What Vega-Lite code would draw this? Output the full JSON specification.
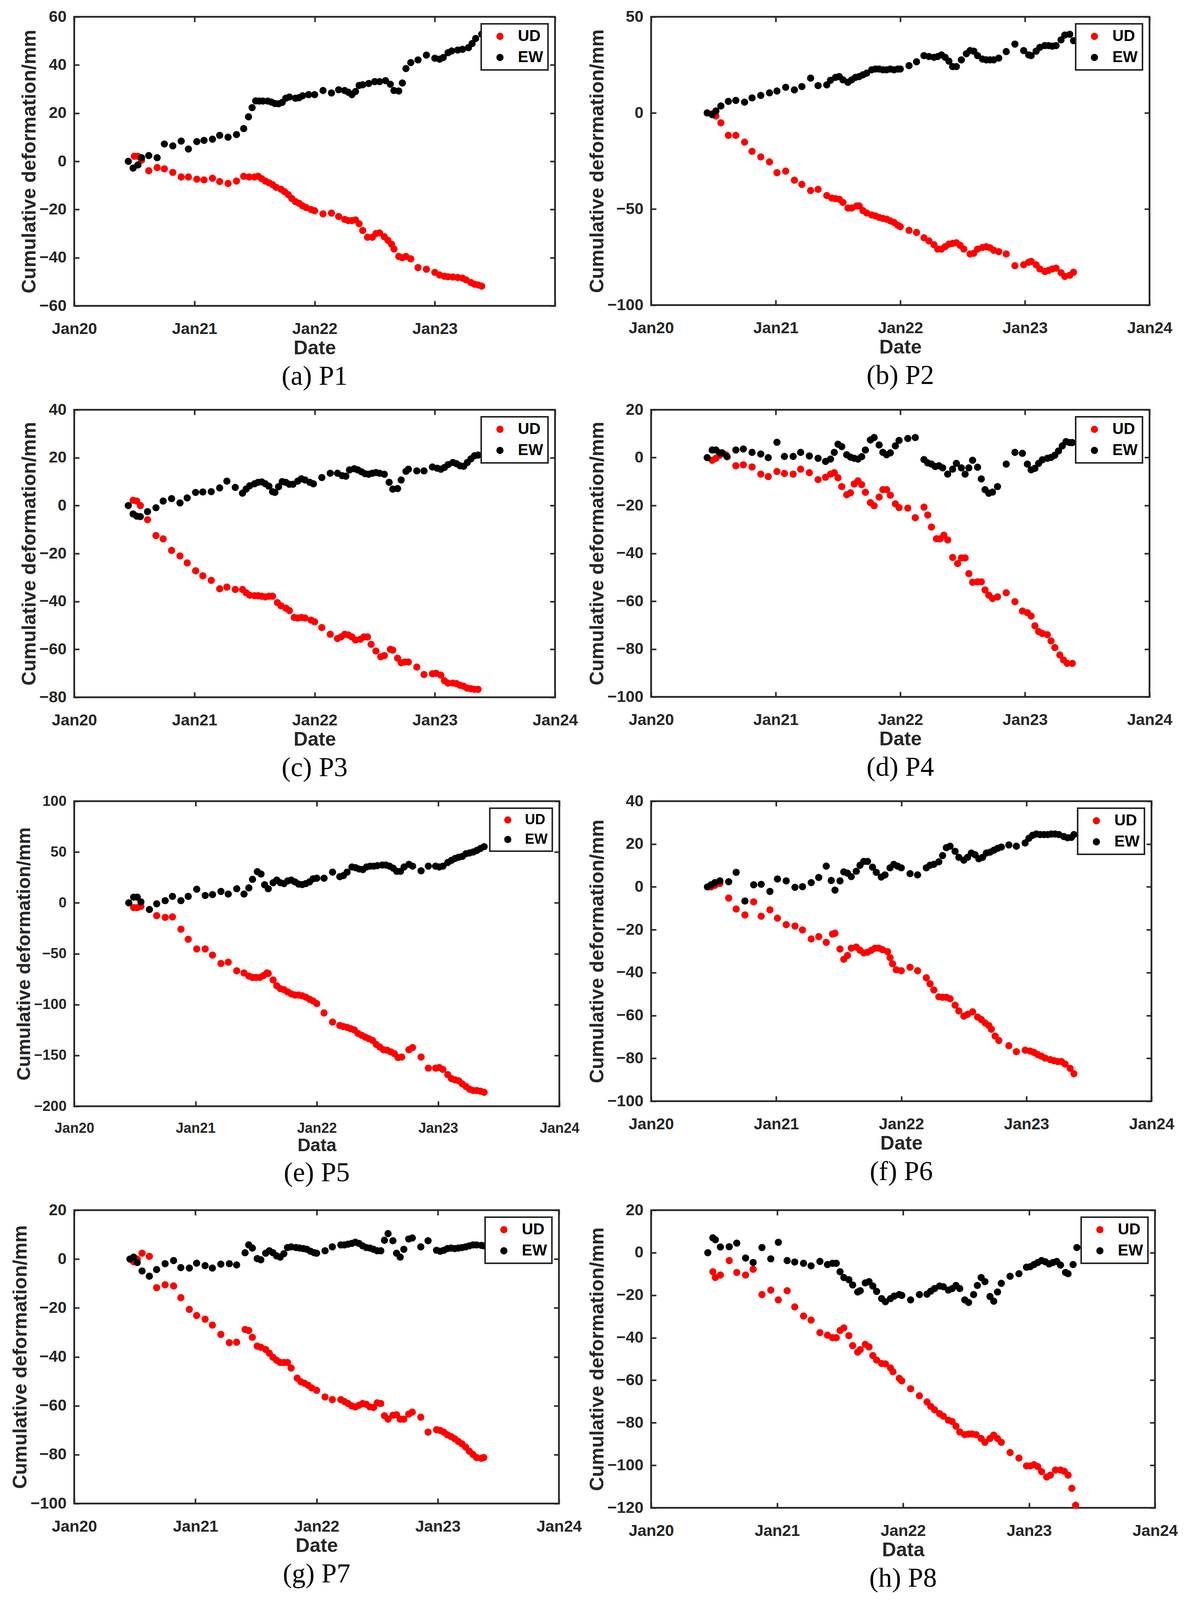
{
  "$schema": "https://vega.github.io/schema/vega-lite/v6.json",
  "background": "white",
  "padding": {"left": 25, "top": 19, "right": 10, "bottom": 10},
  "datasets": {
    "a": [
      {"series":"UD","t":2020.50,"v":2.1},{"series":"UD","t":2020.53,"v":2.1},{"series":"UD","t":2020.56,"v":0.5},{"series":"UD","t":2020.62,"v":-3.9},{"series":"UD","t":2020.69,"v":-2.6},{"series":"UD","t":2020.75,"v":-3.1},{"series":"UD","t":2020.82,"v":-4.6},{"series":"UD","t":2020.89,"v":-6.5},{"series":"UD","t":2020.95,"v":-6.5},{"series":"UD","t":2021.02,"v":-7.4},{"series":"UD","t":2021.08,"v":-7.7},{"series":"UD","t":2021.15,"v":-7.0},{"series":"UD","t":2021.21,"v":-8.4},{"series":"UD","t":2021.28,"v":-9.2},{"series":"UD","t":2021.35,"v":-8.2},{"series":"UD","t":2021.41,"v":-6.2},{"series":"UD","t":2021.455,"v":-6.5},{"series":"UD","t":2021.50,"v":-6.5},{"series":"UD","t":2021.53,"v":-6.2},{"series":"UD","t":2021.56,"v":-7.2},{"series":"UD","t":2021.59,"v":-8.2},{"series":"UD","t":2021.62,"v":-8.9},{"series":"UD","t":2021.65,"v":-9.7},{"series":"UD","t":2021.68,"v":-10.8},{"series":"UD","t":2021.72,"v":-11.6},{"series":"UD","t":2021.75,"v":-12.6},{"series":"UD","t":2021.78,"v":-13.8},{"series":"UD","t":2021.81,"v":-15.4},{"series":"UD","t":2021.84,"v":-16.7},{"series":"UD","t":2021.87,"v":-17.4},{"series":"UD","t":2021.90,"v":-18.5},{"series":"UD","t":2021.93,"v":-19.2},{"series":"UD","t":2021.97,"v":-20.0},{"series":"UD","t":2022.00,"v":-20.5},{"series":"UD","t":2022.07,"v":-21.8},{"series":"UD","t":2022.14,"v":-21.5},{"series":"UD","t":2022.20,"v":-22.9},{"series":"UD","t":2022.25,"v":-24.1},{"series":"UD","t":2022.28,"v":-24.6},{"series":"UD","t":2022.31,"v":-24.6},{"series":"UD","t":2022.34,"v":-24.3},{"series":"UD","t":2022.37,"v":-25.9},{"series":"UD","t":2022.40,"v":-28.7},{"series":"UD","t":2022.44,"v":-31.5},{"series":"UD","t":2022.48,"v":-31.5},{"series":"UD","t":2022.51,"v":-30.0},{"series":"UD","t":2022.54,"v":-29.7},{"series":"UD","t":2022.58,"v":-31.3},{"series":"UD","t":2022.61,"v":-32.8},{"series":"UD","t":2022.64,"v":-34.4},{"series":"UD","t":2022.66,"v":-36.4},{"series":"UD","t":2022.70,"v":-39.5},{"series":"UD","t":2022.73,"v":-40.0},{"series":"UD","t":2022.76,"v":-39.5},{"series":"UD","t":2022.80,"v":-40.5},{"series":"UD","t":2022.86,"v":-44.1},{"series":"UD","t":2022.93,"v":-44.8},{"series":"UD","t":2023.00,"v":-46.1},{"series":"UD","t":2023.04,"v":-47.2},{"series":"UD","t":2023.08,"v":-47.7},{"series":"UD","t":2023.11,"v":-47.9},{"series":"UD","t":2023.15,"v":-48.0},{"series":"UD","t":2023.19,"v":-48.2},{"series":"UD","t":2023.23,"v":-48.5},{"series":"UD","t":2023.26,"v":-49.2},{"series":"UD","t":2023.30,"v":-50.3},{"series":"UD","t":2023.33,"v":-51.0},{"series":"UD","t":2023.36,"v":-51.3},{"series":"UD","t":2023.39,"v":-51.8},
      {"series":"EW","t":2020.45,"v":0},{"series":"EW","t":2020.49,"v":-2.8},{"series":"EW","t":2020.53,"v":-1.5},{"series":"EW","t":2020.56,"v":1.5},{"series":"EW","t":2020.62,"v":2.4},{"series":"EW","t":2020.69,"v":1.5},{"series":"EW","t":2020.75,"v":7.2},{"series":"EW","t":2020.82,"v":6.4},{"series":"EW","t":2020.89,"v":8.4},{"series":"EW","t":2020.95,"v":5.1},{"series":"EW","t":2021.02,"v":8.2},{"series":"EW","t":2021.08,"v":8.7},{"series":"EW","t":2021.15,"v":9.2},{"series":"EW","t":2021.21,"v":10.8},{"series":"EW","t":2021.28,"v":10.0},{"series":"EW","t":2021.35,"v":11.1},{"series":"EW","t":2021.41,"v":13.6},{"series":"EW","t":2021.45,"v":18.5},{"series":"EW","t":2021.48,"v":22.3},{"series":"EW","t":2021.51,"v":25.1},{"series":"EW","t":2021.54,"v":25.0},{"series":"EW","t":2021.57,"v":25.0},{"series":"EW","t":2021.61,"v":25.0},{"series":"EW","t":2021.64,"v":24.6},{"series":"EW","t":2021.67,"v":24.0},{"series":"EW","t":2021.70,"v":23.9},{"series":"EW","t":2021.73,"v":24.5},{"series":"EW","t":2021.76,"v":26.2},{"series":"EW","t":2021.79,"v":26.7},{"series":"EW","t":2021.84,"v":26.2},{"series":"EW","t":2021.87,"v":26.4},{"series":"EW","t":2021.90,"v":27.2},{"series":"EW","t":2021.95,"v":27.7},{"series":"EW","t":2022.00,"v":27.7},{"series":"EW","t":2022.07,"v":29.4},{"series":"EW","t":2022.14,"v":28.4},{"series":"EW","t":2022.20,"v":29.7},{"series":"EW","t":2022.25,"v":29.4},{"series":"EW","t":2022.28,"v":28.7},{"series":"EW","t":2022.31,"v":27.7},{"series":"EW","t":2022.34,"v":29.0},{"series":"EW","t":2022.37,"v":31.5},{"series":"EW","t":2022.40,"v":31.8},{"series":"EW","t":2022.45,"v":32.3},{"series":"EW","t":2022.50,"v":33.1},{"series":"EW","t":2022.54,"v":33.1},{"series":"EW","t":2022.59,"v":33.5},{"series":"EW","t":2022.63,"v":32.0},{"series":"EW","t":2022.66,"v":29.4},{"series":"EW","t":2022.70,"v":29.2},{"series":"EW","t":2022.73,"v":32.5},{"series":"EW","t":2022.76,"v":38.5},{"series":"EW","t":2022.80,"v":41.0},{"series":"EW","t":2022.86,"v":42.1},{"series":"EW","t":2022.93,"v":44.1},{"series":"EW","t":2023.00,"v":42.8},{"series":"EW","t":2023.04,"v":42.4},{"series":"EW","t":2023.07,"v":43.1},{"series":"EW","t":2023.11,"v":45.1},{"series":"EW","t":2023.14,"v":45.8},{"series":"EW","t":2023.19,"v":46.2},{"series":"EW","t":2023.23,"v":46.5},{"series":"EW","t":2023.28,"v":47.2},{"series":"EW","t":2023.31,"v":48.9},{"series":"EW","t":2023.34,"v":51.0},{"series":"EW","t":2023.39,"v":52.8}
    ],
    "b": [
      {"series":"UD","t":2020.49,"v":-0.5},{"series":"UD","t":2020.52,"v":-1.6},{"series":"UD","t":2020.56,"v":-5.2},{"series":"UD","t":2020.62,"v":-11.7},{"series":"UD","t":2020.68,"v":-11.7},{"series":"UD","t":2020.75,"v":-15.2},{"series":"UD","t":2020.81,"v":-20.0},{"series":"UD","t":2020.88,"v":-22.9},{"series":"UD","t":2020.95,"v":-25.5},{"series":"UD","t":2021.01,"v":-31.1},{"series":"UD","t":2021.08,"v":-30.3},{"series":"UD","t":2021.15,"v":-35.0},{"series":"UD","t":2021.21,"v":-37.2},{"series":"UD","t":2021.28,"v":-40.4},{"series":"UD","t":2021.34,"v":-39.8},{"series":"UD","t":2021.41,"v":-43.0},{"series":"UD","t":2021.45,"v":-44.3},{"series":"UD","t":2021.48,"v":-44.6},{"series":"UD","t":2021.51,"v":-44.9},{"series":"UD","t":2021.54,"v":-46.6},{"series":"UD","t":2021.58,"v":-49.5},{"series":"UD","t":2021.61,"v":-49.5},{"series":"UD","t":2021.65,"v":-48.4},{"series":"UD","t":2021.67,"v":-48.4},{"series":"UD","t":2021.70,"v":-50.8},{"series":"UD","t":2021.73,"v":-52.1},{"series":"UD","t":2021.77,"v":-53.1},{"series":"UD","t":2021.80,"v":-53.6},{"series":"UD","t":2021.83,"v":-54.4},{"series":"UD","t":2021.86,"v":-54.9},{"series":"UD","t":2021.89,"v":-55.3},{"series":"UD","t":2021.92,"v":-56.2},{"series":"UD","t":2021.95,"v":-57.0},{"series":"UD","t":2021.98,"v":-58.5},{"series":"UD","t":2022.00,"v":-59.2},{"series":"UD","t":2022.07,"v":-61.1},{"series":"UD","t":2022.13,"v":-62.2},{"series":"UD","t":2022.19,"v":-65.0},{"series":"UD","t":2022.23,"v":-66.6},{"series":"UD","t":2022.27,"v":-68.6},{"series":"UD","t":2022.30,"v":-70.9},{"series":"UD","t":2022.33,"v":-70.9},{"series":"UD","t":2022.36,"v":-69.6},{"series":"UD","t":2022.39,"v":-68.3},{"series":"UD","t":2022.42,"v":-67.9},{"series":"UD","t":2022.45,"v":-67.6},{"series":"UD","t":2022.48,"v":-68.9},{"series":"UD","t":2022.51,"v":-70.9},{"series":"UD","t":2022.56,"v":-73.4},{"series":"UD","t":2022.59,"v":-73.0},{"series":"UD","t":2022.62,"v":-70.9},{"series":"UD","t":2022.66,"v":-70.0},{"series":"UD","t":2022.69,"v":-69.6},{"series":"UD","t":2022.72,"v":-70.2},{"series":"UD","t":2022.75,"v":-71.5},{"series":"UD","t":2022.79,"v":-72.2},{"series":"UD","t":2022.85,"v":-73.4},{"series":"UD","t":2022.92,"v":-79.5},{"series":"UD","t":2022.99,"v":-79.0},{"series":"UD","t":2023.03,"v":-77.7},{"series":"UD","t":2023.05,"v":-77.3},{"series":"UD","t":2023.09,"v":-79.0},{"series":"UD","t":2023.12,"v":-81.2},{"series":"UD","t":2023.16,"v":-82.5},{"series":"UD","t":2023.19,"v":-81.9},{"series":"UD","t":2023.22,"v":-81.2},{"series":"UD","t":2023.25,"v":-80.8},{"series":"UD","t":2023.29,"v":-83.2},{"series":"UD","t":2023.32,"v":-85.1},{"series":"UD","t":2023.36,"v":-84.5},{"series":"UD","t":2023.39,"v":-82.9},
      {"series":"EW","t":2020.45,"v":0},{"series":"EW","t":2020.49,"v":-0.9},{"series":"EW","t":2020.52,"v":1.0},{"series":"EW","t":2020.56,"v":3.6},{"series":"EW","t":2020.62,"v":6.0},{"series":"EW","t":2020.68,"v":6.5},{"series":"EW","t":2020.75,"v":5.6},{"series":"EW","t":2020.81,"v":7.8},{"series":"EW","t":2020.88,"v":9.1},{"series":"EW","t":2020.95,"v":10.4},{"series":"EW","t":2021.01,"v":11.4},{"series":"EW","t":2021.08,"v":13.3},{"series":"EW","t":2021.15,"v":12.0},{"series":"EW","t":2021.21,"v":13.7},{"series":"EW","t":2021.28,"v":18.1},{"series":"EW","t":2021.34,"v":14.2},{"series":"EW","t":2021.41,"v":14.6},{"series":"EW","t":2021.44,"v":17.0},{"series":"EW","t":2021.48,"v":18.5},{"series":"EW","t":2021.51,"v":18.9},{"series":"EW","t":2021.54,"v":17.2},{"series":"EW","t":2021.58,"v":15.9},{"series":"EW","t":2021.61,"v":17.2},{"series":"EW","t":2021.64,"v":18.5},{"series":"EW","t":2021.67,"v":18.9},{"series":"EW","t":2021.70,"v":19.8},{"series":"EW","t":2021.73,"v":20.7},{"series":"EW","t":2021.77,"v":22.4},{"series":"EW","t":2021.80,"v":22.8},{"series":"EW","t":2021.83,"v":22.8},{"series":"EW","t":2021.86,"v":22.4},{"series":"EW","t":2021.89,"v":22.4},{"series":"EW","t":2021.92,"v":22.8},{"series":"EW","t":2021.95,"v":22.4},{"series":"EW","t":2021.98,"v":22.8},{"series":"EW","t":2022.00,"v":22.8},{"series":"EW","t":2022.07,"v":24.6},{"series":"EW","t":2022.13,"v":26.6},{"series":"EW","t":2022.19,"v":29.8},{"series":"EW","t":2022.23,"v":29.3},{"series":"EW","t":2022.27,"v":28.9},{"series":"EW","t":2022.30,"v":29.3},{"series":"EW","t":2022.33,"v":30.2},{"series":"EW","t":2022.36,"v":28.9},{"series":"EW","t":2022.39,"v":26.9},{"series":"EW","t":2022.42,"v":24.1},{"series":"EW","t":2022.45,"v":24.1},{"series":"EW","t":2022.49,"v":27.6},{"series":"EW","t":2022.53,"v":30.8},{"series":"EW","t":2022.56,"v":32.4},{"series":"EW","t":2022.59,"v":32.1},{"series":"EW","t":2022.62,"v":29.8},{"series":"EW","t":2022.66,"v":28.0},{"series":"EW","t":2022.69,"v":27.6},{"series":"EW","t":2022.72,"v":27.6},{"series":"EW","t":2022.75,"v":27.6},{"series":"EW","t":2022.79,"v":28.5},{"series":"EW","t":2022.85,"v":31.9},{"series":"EW","t":2022.92,"v":35.8},{"series":"EW","t":2022.99,"v":32.4},{"series":"EW","t":2023.03,"v":30.2},{"series":"EW","t":2023.05,"v":29.8},{"series":"EW","t":2023.09,"v":32.1},{"series":"EW","t":2023.12,"v":34.1},{"series":"EW","t":2023.16,"v":35.0},{"series":"EW","t":2023.19,"v":35.0},{"series":"EW","t":2023.22,"v":34.7},{"series":"EW","t":2023.25,"v":35.0},{"series":"EW","t":2023.29,"v":38.0},{"series":"EW","t":2023.32,"v":40.5},{"series":"EW","t":2023.36,"v":40.9},{"series":"EW","t":2023.39,"v":37.6}
    ],
    "c": [
      {"series":"UD","t":2020.49,"v":2.2},{"series":"UD","t":2020.52,"v":1.9},{"series":"UD","t":2020.55,"v":0.0},{"series":"UD","t":2020.61,"v":-5.9},{"series":"UD","t":2020.68,"v":-12.5},{"series":"UD","t":2020.74,"v":-13.9},{"series":"UD","t":2020.81,"v":-18.7},{"series":"UD","t":2020.88,"v":-21.0},{"series":"UD","t":2020.94,"v":-23.9},{"series":"UD","t":2021.01,"v":-27.2},{"series":"UD","t":2021.07,"v":-29.3},{"series":"UD","t":2021.14,"v":-31.2},{"series":"UD","t":2021.21,"v":-34.7},{"series":"UD","t":2021.27,"v":-34.0},{"series":"UD","t":2021.34,"v":-35.0},{"series":"UD","t":2021.40,"v":-35.0},{"series":"UD","t":2021.43,"v":-36.4},{"series":"UD","t":2021.46,"v":-37.4},{"series":"UD","t":2021.50,"v":-37.6},{"series":"UD","t":2021.53,"v":-37.6},{"series":"UD","t":2021.56,"v":-37.8},{"series":"UD","t":2021.59,"v":-38.1},{"series":"UD","t":2021.62,"v":-37.8},{"series":"UD","t":2021.65,"v":-37.8},{"series":"UD","t":2021.69,"v":-40.5},{"series":"UD","t":2021.72,"v":-41.8},{"series":"UD","t":2021.76,"v":-42.8},{"series":"UD","t":2021.79,"v":-43.8},{"series":"UD","t":2021.83,"v":-46.7},{"series":"UD","t":2021.86,"v":-46.9},{"series":"UD","t":2021.89,"v":-46.7},{"series":"UD","t":2021.92,"v":-46.9},{"series":"UD","t":2021.97,"v":-47.8},{"series":"UD","t":2022.00,"v":-48.5},{"series":"UD","t":2022.06,"v":-50.9},{"series":"UD","t":2022.13,"v":-53.7},{"series":"UD","t":2022.19,"v":-55.5},{"series":"UD","t":2022.22,"v":-54.8},{"series":"UD","t":2022.25,"v":-53.7},{"series":"UD","t":2022.28,"v":-54.0},{"series":"UD","t":2022.31,"v":-54.8},{"series":"UD","t":2022.34,"v":-56.1},{"series":"UD","t":2022.38,"v":-55.8},{"series":"UD","t":2022.41,"v":-54.8},{"series":"UD","t":2022.44,"v":-54.8},{"series":"UD","t":2022.47,"v":-57.9},{"series":"UD","t":2022.51,"v":-60.7},{"series":"UD","t":2022.55,"v":-63.1},{"series":"UD","t":2022.58,"v":-62.6},{"series":"UD","t":2022.63,"v":-60.0},{"series":"UD","t":2022.65,"v":-60.3},{"series":"UD","t":2022.69,"v":-63.7},{"series":"UD","t":2022.72,"v":-65.6},{"series":"UD","t":2022.75,"v":-65.3},{"series":"UD","t":2022.78,"v":-65.3},{"series":"UD","t":2022.85,"v":-67.4},{"series":"UD","t":2022.91,"v":-70.5},{"series":"UD","t":2022.98,"v":-70.2},{"series":"UD","t":2023.01,"v":-70.0},{"series":"UD","t":2023.05,"v":-70.8},{"series":"UD","t":2023.08,"v":-73.1},{"series":"UD","t":2023.11,"v":-74.1},{"series":"UD","t":2023.15,"v":-74.1},{"series":"UD","t":2023.18,"v":-74.3},{"series":"UD","t":2023.21,"v":-75.0},{"series":"UD","t":2023.24,"v":-75.4},{"series":"UD","t":2023.27,"v":-76.2},{"series":"UD","t":2023.30,"v":-76.4},{"series":"UD","t":2023.33,"v":-76.7},{"series":"UD","t":2023.36,"v":-76.7},
      {"series":"EW","t":2020.45,"v":0},{"series":"EW","t":2020.49,"v":-3.5},{"series":"EW","t":2020.52,"v":-4.4},{"series":"EW","t":2020.55,"v":-4.6},{"series":"EW","t":2020.61,"v":-2.5},{"series":"EW","t":2020.68,"v":-0.9},{"series":"EW","t":2020.74,"v":1.9},{"series":"EW","t":2020.81,"v":2.9},{"series":"EW","t":2020.88,"v":1.1},{"series":"EW","t":2020.94,"v":3.2},{"series":"EW","t":2021.01,"v":5.5},{"series":"EW","t":2021.07,"v":5.7},{"series":"EW","t":2021.14,"v":5.8},{"series":"EW","t":2021.21,"v":7.4},{"series":"EW","t":2021.27,"v":10.2},{"series":"EW","t":2021.34,"v":7.6},{"series":"EW","t":2021.40,"v":5.2},{"series":"EW","t":2021.43,"v":6.9},{"series":"EW","t":2021.46,"v":8.3},{"series":"EW","t":2021.50,"v":9.1},{"series":"EW","t":2021.53,"v":9.7},{"series":"EW","t":2021.56,"v":9.9},{"series":"EW","t":2021.59,"v":9.1},{"series":"EW","t":2021.62,"v":8.1},{"series":"EW","t":2021.65,"v":5.8},{"series":"EW","t":2021.67,"v":5.5},{"series":"EW","t":2021.70,"v":7.9},{"series":"EW","t":2021.73,"v":10.0},{"series":"EW","t":2021.76,"v":9.7},{"series":"EW","t":2021.79,"v":8.9},{"series":"EW","t":2021.82,"v":8.9},{"series":"EW","t":2021.86,"v":10.2},{"series":"EW","t":2021.89,"v":11.2},{"series":"EW","t":2021.92,"v":10.7},{"series":"EW","t":2021.96,"v":9.7},{"series":"EW","t":2021.99,"v":9.1},{"series":"EW","t":2022.06,"v":11.7},{"series":"EW","t":2022.13,"v":13.5},{"series":"EW","t":2022.19,"v":13.5},{"series":"EW","t":2022.23,"v":12.5},{"series":"EW","t":2022.26,"v":12.3},{"series":"EW","t":2022.29,"v":14.9},{"series":"EW","t":2022.33,"v":15.4},{"series":"EW","t":2022.36,"v":14.9},{"series":"EW","t":2022.39,"v":14.1},{"series":"EW","t":2022.42,"v":13.3},{"series":"EW","t":2022.45,"v":13.1},{"series":"EW","t":2022.48,"v":13.5},{"series":"EW","t":2022.51,"v":13.8},{"series":"EW","t":2022.54,"v":13.5},{"series":"EW","t":2022.58,"v":13.1},{"series":"EW","t":2022.62,"v":9.7},{"series":"EW","t":2022.65,"v":6.9},{"series":"EW","t":2022.69,"v":7.1},{"series":"EW","t":2022.72,"v":10.7},{"series":"EW","t":2022.76,"v":14.3},{"series":"EW","t":2022.78,"v":15.2},{"series":"EW","t":2022.85,"v":14.5},{"series":"EW","t":2022.91,"v":14.5},{"series":"EW","t":2022.98,"v":16.1},{"series":"EW","t":2023.02,"v":15.6},{"series":"EW","t":2023.05,"v":15.2},{"series":"EW","t":2023.08,"v":15.9},{"series":"EW","t":2023.11,"v":17.1},{"series":"EW","t":2023.15,"v":18.0},{"series":"EW","t":2023.18,"v":17.5},{"series":"EW","t":2023.21,"v":16.6},{"series":"EW","t":2023.24,"v":16.4},{"series":"EW","t":2023.27,"v":18.0},{"series":"EW","t":2023.30,"v":19.5},{"series":"EW","t":2023.33,"v":20.8},{"series":"EW","t":2023.36,"v":21.1}
    ],
    "d": [
      {"series":"UD","t":2020.49,"v":-1.1},{"series":"UD","t":2020.52,"v":-0.3},{"series":"UD","t":2020.55,"v":1.0},{"series":"UD","t":2020.60,"v":1.2},{"series":"UD","t":2020.68,"v":-3.4},{"series":"UD","t":2020.74,"v":-3.0},{"series":"UD","t":2020.81,"v":-3.9},{"series":"UD","t":2020.88,"v":-6.9},{"series":"UD","t":2020.94,"v":-7.9},{"series":"UD","t":2021.01,"v":-5.8},{"series":"UD","t":2021.07,"v":-6.6},{"series":"UD","t":2021.14,"v":-6.9},{"series":"UD","t":2021.20,"v":-4.8},{"series":"UD","t":2021.27,"v":-6.3},{"series":"UD","t":2021.34,"v":-9.2},{"series":"UD","t":2021.40,"v":-8.2},{"series":"UD","t":2021.44,"v":-6.9},{"series":"UD","t":2021.47,"v":-6.3},{"series":"UD","t":2021.50,"v":-8.4},{"series":"UD","t":2021.53,"v":-12.1},{"series":"UD","t":2021.57,"v":-15.5},{"series":"UD","t":2021.60,"v":-14.7},{"series":"UD","t":2021.63,"v":-11.0},{"series":"UD","t":2021.66,"v":-9.7},{"series":"UD","t":2021.69,"v":-11.3},{"series":"UD","t":2021.72,"v":-14.5},{"series":"UD","t":2021.76,"v":-18.8},{"series":"UD","t":2021.79,"v":-20.1},{"series":"UD","t":2021.83,"v":-16.5},{"series":"UD","t":2021.86,"v":-13.4},{"series":"UD","t":2021.89,"v":-13.4},{"series":"UD","t":2021.92,"v":-15.7},{"series":"UD","t":2021.96,"v":-19.3},{"series":"UD","t":2021.99,"v":-20.9},{"series":"UD","t":2022.06,"v":-21.1},{"series":"UD","t":2022.12,"v":-25.1},{"series":"UD","t":2022.19,"v":-20.7},{"series":"UD","t":2022.22,"v":-24.0},{"series":"UD","t":2022.25,"v":-29.0},{"series":"UD","t":2022.29,"v":-33.9},{"series":"UD","t":2022.32,"v":-33.9},{"series":"UD","t":2022.35,"v":-32.4},{"series":"UD","t":2022.38,"v":-34.4},{"series":"UD","t":2022.42,"v":-41.7},{"series":"UD","t":2022.46,"v":-44.3},{"series":"UD","t":2022.49,"v":-41.9},{"series":"UD","t":2022.52,"v":-41.9},{"series":"UD","t":2022.55,"v":-48.5},{"series":"UD","t":2022.58,"v":-52.1},{"series":"UD","t":2022.62,"v":-51.9},{"series":"UD","t":2022.65,"v":-51.9},{"series":"UD","t":2022.68,"v":-55.3},{"series":"UD","t":2022.71,"v":-57.5},{"series":"UD","t":2022.74,"v":-58.9},{"series":"UD","t":2022.78,"v":-58.2},{"series":"UD","t":2022.85,"v":-56.5},{"series":"UD","t":2022.92,"v":-60.2},{"series":"UD","t":2022.98,"v":-64.1},{"series":"UD","t":2023.02,"v":-64.8},{"series":"UD","t":2023.05,"v":-66.2},{"series":"UD","t":2023.08,"v":-70.3},{"series":"UD","t":2023.11,"v":-72.7},{"series":"UD","t":2023.14,"v":-73.5},{"series":"UD","t":2023.18,"v":-74.0},{"series":"UD","t":2023.21,"v":-76.6},{"series":"UD","t":2023.24,"v":-79.4},{"series":"UD","t":2023.28,"v":-82.5},{"series":"UD","t":2023.31,"v":-84.6},{"series":"UD","t":2023.34,"v":-86.0},{"series":"UD","t":2023.38,"v":-86.0},
      {"series":"EW","t":2020.45,"v":0},{"series":"EW","t":2020.49,"v":3.2},{"series":"EW","t":2020.52,"v":3.2},{"series":"EW","t":2020.55,"v":2.0},{"series":"EW","t":2020.57,"v":2.0},{"series":"EW","t":2020.61,"v":0.4},{"series":"EW","t":2020.68,"v":3.2},{"series":"EW","t":2020.74,"v":3.6},{"series":"EW","t":2020.81,"v":2.2},{"series":"EW","t":2020.88,"v":1.5},{"series":"EW","t":2020.94,"v":0.0},{"series":"EW","t":2021.01,"v":6.4},{"series":"EW","t":2021.07,"v":0.5},{"series":"EW","t":2021.14,"v":0.5},{"series":"EW","t":2021.20,"v":2.2},{"series":"EW","t":2021.27,"v":0.7},{"series":"EW","t":2021.34,"v":-0.3},{"series":"EW","t":2021.40,"v":-1.6},{"series":"EW","t":2021.44,"v":-0.6},{"series":"EW","t":2021.47,"v":2.2},{"series":"EW","t":2021.50,"v":5.6},{"series":"EW","t":2021.53,"v":4.6},{"series":"EW","t":2021.57,"v":1.2},{"series":"EW","t":2021.60,"v":0.2},{"series":"EW","t":2021.63,"v":-0.3},{"series":"EW","t":2021.66,"v":-0.6},{"series":"EW","t":2021.69,"v":0.4},{"series":"EW","t":2021.72,"v":3.2},{"series":"EW","t":2021.76,"v":7.4},{"series":"EW","t":2021.79,"v":8.4},{"series":"EW","t":2021.83,"v":5.3},{"series":"EW","t":2021.86,"v":2.2},{"series":"EW","t":2021.89,"v":1.2},{"series":"EW","t":2021.92,"v":2.0},{"series":"EW","t":2021.96,"v":4.9},{"series":"EW","t":2021.99,"v":7.2},{"series":"EW","t":2022.06,"v":8.0},{"series":"EW","t":2022.12,"v":8.4},{"series":"EW","t":2022.19,"v":-0.8},{"series":"EW","t":2022.22,"v":-2.2},{"series":"EW","t":2022.25,"v":-2.7},{"series":"EW","t":2022.28,"v":-3.7},{"series":"EW","t":2022.31,"v":-3.4},{"series":"EW","t":2022.34,"v":-4.3},{"series":"EW","t":2022.38,"v":-6.9},{"series":"EW","t":2022.42,"v":-4.8},{"series":"EW","t":2022.45,"v":-2.4},{"series":"EW","t":2022.49,"v":-4.3},{"series":"EW","t":2022.52,"v":-6.9},{"series":"EW","t":2022.55,"v":-4.3},{"series":"EW","t":2022.58,"v":-1.1},{"series":"EW","t":2022.62,"v":-4.0},{"series":"EW","t":2022.65,"v":-8.9},{"series":"EW","t":2022.68,"v":-13.4},{"series":"EW","t":2022.71,"v":-14.9},{"series":"EW","t":2022.74,"v":-14.4},{"series":"EW","t":2022.78,"v":-12.1},{"series":"EW","t":2022.85,"v":-2.7},{"series":"EW","t":2022.92,"v":2.2},{"series":"EW","t":2022.98,"v":1.8},{"series":"EW","t":2023.02,"v":-2.7},{"series":"EW","t":2023.05,"v":-5.1},{"series":"EW","t":2023.08,"v":-4.5},{"series":"EW","t":2023.11,"v":-2.4},{"series":"EW","t":2023.14,"v":-0.9},{"series":"EW","t":2023.18,"v":-0.3},{"series":"EW","t":2023.21,"v":0.1},{"series":"EW","t":2023.24,"v":1.0},{"series":"EW","t":2023.27,"v":2.8},{"series":"EW","t":2023.30,"v":4.9},{"series":"EW","t":2023.33,"v":6.7},{"series":"EW","t":2023.36,"v":6.3},{"series":"EW","t":2023.38,"v":6.3}
    ],
    "e": [
      {"series":"UD","t":2020.49,"v":-4.7},{"series":"UD","t":2020.52,"v":-4.7},{"series":"UD","t":2020.55,"v":-3.4},{"series":"UD","t":2020.68,"v":-12.5},{"series":"UD","t":2020.75,"v":-14.3},{"series":"UD","t":2020.81,"v":-13.8},{"series":"UD","t":2020.88,"v":-25.9},{"series":"UD","t":2020.94,"v":-35.8},{"series":"UD","t":2021.01,"v":-45.3},{"series":"UD","t":2021.08,"v":-45.3},{"series":"UD","t":2021.14,"v":-51.3},{"series":"UD","t":2021.21,"v":-59.6},{"series":"UD","t":2021.27,"v":-58.3},{"series":"UD","t":2021.34,"v":-66.8},{"series":"UD","t":2021.40,"v":-68.9},{"series":"UD","t":2021.44,"v":-72.0},{"series":"UD","t":2021.47,"v":-73.3},{"series":"UD","t":2021.50,"v":-73.3},{"series":"UD","t":2021.53,"v":-73.3},{"series":"UD","t":2021.56,"v":-71.5},{"series":"UD","t":2021.59,"v":-68.9},{"series":"UD","t":2021.60,"v":-69.4},{"series":"UD","t":2021.64,"v":-75.8},{"series":"UD","t":2021.67,"v":-81.5},{"series":"UD","t":2021.70,"v":-84.4},{"series":"UD","t":2021.73,"v":-85.4},{"series":"UD","t":2021.76,"v":-87.5},{"series":"UD","t":2021.79,"v":-89.6},{"series":"UD","t":2021.82,"v":-90.6},{"series":"UD","t":2021.85,"v":-90.6},{"series":"UD","t":2021.88,"v":-91.4},{"series":"UD","t":2021.91,"v":-92.7},{"series":"UD","t":2021.94,"v":-94.7},{"series":"UD","t":2021.97,"v":-96.5},{"series":"UD","t":2022.00,"v":-99.1},{"series":"UD","t":2022.06,"v":-108.2},{"series":"UD","t":2022.13,"v":-117.2},{"series":"UD","t":2022.19,"v":-120.6},{"series":"UD","t":2022.22,"v":-121.6},{"series":"UD","t":2022.25,"v":-122.4},{"series":"UD","t":2022.28,"v":-123.7},{"series":"UD","t":2022.31,"v":-125.0},{"series":"UD","t":2022.34,"v":-128.4},{"series":"UD","t":2022.37,"v":-130.2},{"series":"UD","t":2022.40,"v":-132.0},{"series":"UD","t":2022.43,"v":-133.5},{"series":"UD","t":2022.46,"v":-135.3},{"series":"UD","t":2022.49,"v":-139.2},{"series":"UD","t":2022.52,"v":-141.8},{"series":"UD","t":2022.55,"v":-144.4},{"series":"UD","t":2022.58,"v":-144.9},{"series":"UD","t":2022.61,"v":-146.5},{"series":"UD","t":2022.64,"v":-148.3},{"series":"UD","t":2022.67,"v":-152.1},{"series":"UD","t":2022.70,"v":-151.6},{"series":"UD","t":2022.76,"v":-144.4},{"series":"UD","t":2022.79,"v":-142.3},{"series":"UD","t":2022.86,"v":-151.6},{"series":"UD","t":2022.92,"v":-162.5},{"series":"UD","t":2022.98,"v":-162.5},{"series":"UD","t":2023.01,"v":-162.0},{"series":"UD","t":2023.04,"v":-163.8},{"series":"UD","t":2023.08,"v":-168.9},{"series":"UD","t":2023.11,"v":-172.8},{"series":"UD","t":2023.14,"v":-174.1},{"series":"UD","t":2023.17,"v":-174.9},{"series":"UD","t":2023.20,"v":-178.0},{"series":"UD","t":2023.23,"v":-180.6},{"series":"UD","t":2023.26,"v":-183.2},{"series":"UD","t":2023.29,"v":-184.5},{"series":"UD","t":2023.32,"v":-184.5},{"series":"UD","t":2023.35,"v":-185.2},{"series":"UD","t":2023.38,"v":-186.3},
      {"series":"EW","t":2020.45,"v":0},{"series":"EW","t":2020.49,"v":5.6},{"series":"EW","t":2020.52,"v":5.6},{"series":"EW","t":2020.55,"v":1.0},{"series":"EW","t":2020.62,"v":-6.5},{"series":"EW","t":2020.68,"v":-0.9},{"series":"EW","t":2020.75,"v":2.2},{"series":"EW","t":2020.81,"v":6.4},{"series":"EW","t":2020.88,"v":2.2},{"series":"EW","t":2020.94,"v":6.4},{"series":"EW","t":2021.01,"v":13.4},{"series":"EW","t":2021.08,"v":7.2},{"series":"EW","t":2021.14,"v":8.2},{"series":"EW","t":2021.21,"v":11.3},{"series":"EW","t":2021.27,"v":8.7},{"series":"EW","t":2021.34,"v":13.9},{"series":"EW","t":2021.40,"v":8.7},{"series":"EW","t":2021.44,"v":14.7},{"series":"EW","t":2021.47,"v":23.2},{"series":"EW","t":2021.51,"v":30.7},{"series":"EW","t":2021.54,"v":28.4},{"series":"EW","t":2021.57,"v":17.8},{"series":"EW","t":2021.60,"v":13.9},{"series":"EW","t":2021.64,"v":19.8},{"series":"EW","t":2021.67,"v":22.4},{"series":"EW","t":2021.70,"v":19.8},{"series":"EW","t":2021.73,"v":19.0},{"series":"EW","t":2021.76,"v":21.6},{"series":"EW","t":2021.79,"v":22.4},{"series":"EW","t":2021.82,"v":20.6},{"series":"EW","t":2021.85,"v":18.5},{"series":"EW","t":2021.88,"v":18.0},{"series":"EW","t":2021.91,"v":19.0},{"series":"EW","t":2021.94,"v":20.6},{"series":"EW","t":2021.97,"v":23.7},{"series":"EW","t":2022.00,"v":24.2},{"series":"EW","t":2022.06,"v":24.2},{"series":"EW","t":2022.13,"v":30.2},{"series":"EW","t":2022.19,"v":25.8},{"series":"EW","t":2022.22,"v":26.8},{"series":"EW","t":2022.25,"v":30.2},{"series":"EW","t":2022.29,"v":35.3},{"series":"EW","t":2022.32,"v":34.6},{"series":"EW","t":2022.35,"v":33.3},{"series":"EW","t":2022.38,"v":32.8},{"series":"EW","t":2022.41,"v":35.3},{"series":"EW","t":2022.44,"v":36.1},{"series":"EW","t":2022.47,"v":36.1},{"series":"EW","t":2022.50,"v":36.6},{"series":"EW","t":2022.54,"v":37.2},{"series":"EW","t":2022.57,"v":37.2},{"series":"EW","t":2022.60,"v":36.1},{"series":"EW","t":2022.63,"v":34.1},{"series":"EW","t":2022.66,"v":31.0},{"series":"EW","t":2022.69,"v":31.0},{"series":"EW","t":2022.72,"v":35.3},{"series":"EW","t":2022.76,"v":37.9},{"series":"EW","t":2022.79,"v":36.1},{"series":"EW","t":2022.86,"v":31.5},{"series":"EW","t":2022.92,"v":36.1},{"series":"EW","t":2022.98,"v":36.1},{"series":"EW","t":2023.01,"v":35.3},{"series":"EW","t":2023.04,"v":36.1},{"series":"EW","t":2023.08,"v":39.7},{"series":"EW","t":2023.11,"v":41.8},{"series":"EW","t":2023.14,"v":43.6},{"series":"EW","t":2023.17,"v":44.9},{"series":"EW","t":2023.20,"v":45.7},{"series":"EW","t":2023.23,"v":48.3},{"series":"EW","t":2023.26,"v":49.1},{"series":"EW","t":2023.29,"v":50.1},{"series":"EW","t":2023.32,"v":51.6},{"series":"EW","t":2023.35,"v":53.5},{"series":"EW","t":2023.38,"v":55.3}
    ],
    "f": [
      {"series":"UD","t":2020.48,"v":0.0},{"series":"UD","t":2020.51,"v":0.7},{"series":"UD","t":2020.55,"v":1.6},{"series":"UD","t":2020.62,"v":-5.2},{"series":"UD","t":2020.68,"v":-10.3},{"series":"UD","t":2020.75,"v":-13.1},{"series":"UD","t":2020.82,"v":-7.0},{"series":"UD","t":2020.88,"v":-13.7},{"series":"UD","t":2020.95,"v":-10.7},{"series":"UD","t":2021.01,"v":-14.6},{"series":"UD","t":2021.08,"v":-17.6},{"series":"UD","t":2021.15,"v":-18.3},{"series":"UD","t":2021.21,"v":-20.1},{"series":"UD","t":2021.28,"v":-24.3},{"series":"UD","t":2021.34,"v":-23.2},{"series":"UD","t":2021.40,"v":-25.9},{"series":"UD","t":2021.45,"v":-22.0},{"series":"UD","t":2021.47,"v":-21.6},{"series":"UD","t":2021.51,"v":-29.0},{"series":"UD","t":2021.54,"v":-33.8},{"series":"UD","t":2021.57,"v":-32.0},{"series":"UD","t":2021.60,"v":-28.6},{"series":"UD","t":2021.64,"v":-28.1},{"series":"UD","t":2021.67,"v":-29.6},{"series":"UD","t":2021.70,"v":-30.8},{"series":"UD","t":2021.73,"v":-30.5},{"series":"UD","t":2021.76,"v":-29.6},{"series":"UD","t":2021.79,"v":-28.6},{"series":"UD","t":2021.82,"v":-28.6},{"series":"UD","t":2021.85,"v":-29.3},{"series":"UD","t":2021.89,"v":-30.2},{"series":"UD","t":2021.91,"v":-33.0},{"series":"UD","t":2021.93,"v":-35.9},{"series":"UD","t":2021.96,"v":-38.7},{"series":"UD","t":2022.00,"v":-39.1},{"series":"UD","t":2022.07,"v":-37.5},{"series":"UD","t":2022.13,"v":-39.1},{"series":"UD","t":2022.20,"v":-42.4},{"series":"UD","t":2022.23,"v":-45.2},{"series":"UD","t":2022.26,"v":-48.1},{"series":"UD","t":2022.30,"v":-51.3},{"series":"UD","t":2022.33,"v":-51.5},{"series":"UD","t":2022.36,"v":-51.5},{"series":"UD","t":2022.39,"v":-52.2},{"series":"UD","t":2022.43,"v":-55.2},{"series":"UD","t":2022.46,"v":-57.9},{"series":"UD","t":2022.50,"v":-60.3},{"series":"UD","t":2022.53,"v":-59.5},{"series":"UD","t":2022.57,"v":-58.3},{"series":"UD","t":2022.61,"v":-60.7},{"series":"UD","t":2022.64,"v":-61.9},{"series":"UD","t":2022.67,"v":-63.5},{"series":"UD","t":2022.70,"v":-64.7},{"series":"UD","t":2022.72,"v":-66.4},{"series":"UD","t":2022.75,"v":-69.6},{"series":"UD","t":2022.78,"v":-71.7},{"series":"UD","t":2022.86,"v":-74.1},{"series":"UD","t":2022.92,"v":-76.9},{"series":"UD","t":2022.99,"v":-76.2},{"series":"UD","t":2023.03,"v":-76.6},{"series":"UD","t":2023.06,"v":-77.2},{"series":"UD","t":2023.09,"v":-78.2},{"series":"UD","t":2023.12,"v":-79.0},{"series":"UD","t":2023.15,"v":-79.9},{"series":"UD","t":2023.19,"v":-80.6},{"series":"UD","t":2023.22,"v":-81.1},{"series":"UD","t":2023.25,"v":-81.5},{"series":"UD","t":2023.28,"v":-81.5},{"series":"UD","t":2023.31,"v":-82.7},{"series":"UD","t":2023.35,"v":-84.7},{"series":"UD","t":2023.38,"v":-87.2},
      {"series":"EW","t":2020.45,"v":0},{"series":"EW","t":2020.48,"v":1.0},{"series":"EW","t":2020.51,"v":2.0},{"series":"EW","t":2020.55,"v":2.8},{"series":"EW","t":2020.62,"v":2.4},{"series":"EW","t":2020.68,"v":6.8},{"series":"EW","t":2020.75,"v":-6.6},{"series":"EW","t":2020.82,"v":1.0},{"series":"EW","t":2020.88,"v":1.2},{"series":"EW","t":2020.95,"v":-2.1},{"series":"EW","t":2021.01,"v":3.7},{"series":"EW","t":2021.08,"v":2.8},{"series":"EW","t":2021.15,"v":-0.2},{"series":"EW","t":2021.21,"v":0.1},{"series":"EW","t":2021.28,"v":2.0},{"series":"EW","t":2021.34,"v":4.4},{"series":"EW","t":2021.40,"v":9.7},{"series":"EW","t":2021.44,"v":3.0},{"series":"EW","t":2021.47,"v":-1.5},{"series":"EW","t":2021.51,"v":2.8},{"series":"EW","t":2021.54,"v":7.0},{"series":"EW","t":2021.57,"v":6.4},{"series":"EW","t":2021.60,"v":4.8},{"series":"EW","t":2021.64,"v":7.3},{"series":"EW","t":2021.67,"v":10.1},{"series":"EW","t":2021.70,"v":11.9},{"series":"EW","t":2021.73,"v":11.9},{"series":"EW","t":2021.77,"v":9.2},{"series":"EW","t":2021.80,"v":6.8},{"series":"EW","t":2021.84,"v":4.6},{"series":"EW","t":2021.87,"v":5.6},{"series":"EW","t":2021.91,"v":8.9},{"series":"EW","t":2021.94,"v":10.5},{"series":"EW","t":2021.97,"v":9.7},{"series":"EW","t":2022.00,"v":8.9},{"series":"EW","t":2022.07,"v":6.2},{"series":"EW","t":2022.13,"v":5.6},{"series":"EW","t":2022.20,"v":8.9},{"series":"EW","t":2022.23,"v":10.1},{"series":"EW","t":2022.26,"v":10.5},{"series":"EW","t":2022.30,"v":11.7},{"series":"EW","t":2022.33,"v":14.6},{"series":"EW","t":2022.36,"v":18.3},{"series":"EW","t":2022.39,"v":19.0},{"series":"EW","t":2022.43,"v":16.6},{"series":"EW","t":2022.46,"v":13.8},{"series":"EW","t":2022.50,"v":12.5},{"series":"EW","t":2022.53,"v":13.8},{"series":"EW","t":2022.56,"v":15.8},{"series":"EW","t":2022.59,"v":15.0},{"series":"EW","t":2022.62,"v":13.1},{"series":"EW","t":2022.65,"v":13.8},{"series":"EW","t":2022.68,"v":15.8},{"series":"EW","t":2022.71,"v":16.2},{"series":"EW","t":2022.74,"v":17.1},{"series":"EW","t":2022.77,"v":18.0},{"series":"EW","t":2022.80,"v":18.6},{"series":"EW","t":2022.86,"v":19.6},{"series":"EW","t":2022.92,"v":19.0},{"series":"EW","t":2022.99,"v":20.5},{"series":"EW","t":2023.02,"v":22.7},{"series":"EW","t":2023.05,"v":24.1},{"series":"EW","t":2023.08,"v":24.7},{"series":"EW","t":2023.11,"v":24.4},{"series":"EW","t":2023.14,"v":24.4},{"series":"EW","t":2023.17,"v":24.4},{"series":"EW","t":2023.20,"v":24.7},{"series":"EW","t":2023.23,"v":24.7},{"series":"EW","t":2023.26,"v":24.4},{"series":"EW","t":2023.30,"v":23.5},{"series":"EW","t":2023.33,"v":22.9},{"series":"EW","t":2023.36,"v":23.1},{"series":"EW","t":2023.38,"v":24.4}
    ],
    "g": [
      {"series":"UD","t":2020.49,"v":-1.1},{"series":"UD","t":2020.52,"v":0.0},{"series":"UD","t":2020.56,"v":2.4},{"series":"UD","t":2020.62,"v":1.1},{"series":"UD","t":2020.68,"v":-11.7},{"series":"UD","t":2020.75,"v":-10.5},{"series":"UD","t":2020.82,"v":-11.0},{"series":"UD","t":2020.88,"v":-15.8},{"series":"UD","t":2020.95,"v":-20.6},{"series":"UD","t":2021.01,"v":-23.1},{"series":"UD","t":2021.08,"v":-24.6},{"series":"UD","t":2021.14,"v":-27.0},{"series":"UD","t":2021.21,"v":-30.8},{"series":"UD","t":2021.28,"v":-34.2},{"series":"UD","t":2021.34,"v":-34.0},{"series":"UD","t":2021.41,"v":-28.8},{"series":"UD","t":2021.44,"v":-29.2},{"series":"UD","t":2021.47,"v":-32.0},{"series":"UD","t":2021.51,"v":-35.6},{"series":"UD","t":2021.54,"v":-36.1},{"series":"UD","t":2021.58,"v":-37.0},{"series":"UD","t":2021.61,"v":-38.5},{"series":"UD","t":2021.64,"v":-40.2},{"series":"UD","t":2021.67,"v":-41.4},{"series":"UD","t":2021.70,"v":-42.3},{"series":"UD","t":2021.73,"v":-42.3},{"series":"UD","t":2021.76,"v":-42.3},{"series":"UD","t":2021.79,"v":-44.6},{"series":"UD","t":2021.84,"v":-48.7},{"series":"UD","t":2021.87,"v":-50.2},{"series":"UD","t":2021.90,"v":-50.8},{"series":"UD","t":2021.93,"v":-51.6},{"series":"UD","t":2021.96,"v":-52.7},{"series":"UD","t":2022.00,"v":-53.7},{"series":"UD","t":2022.07,"v":-56.4},{"series":"UD","t":2022.13,"v":-57.5},{"series":"UD","t":2022.20,"v":-57.5},{"series":"UD","t":2022.23,"v":-58.3},{"series":"UD","t":2022.26,"v":-59.1},{"series":"UD","t":2022.29,"v":-60.1},{"series":"UD","t":2022.32,"v":-60.5},{"series":"UD","t":2022.35,"v":-59.8},{"series":"UD","t":2022.38,"v":-59.1},{"series":"UD","t":2022.41,"v":-59.4},{"series":"UD","t":2022.44,"v":-60.5},{"series":"UD","t":2022.47,"v":-60.7},{"series":"UD","t":2022.50,"v":-58.8},{"series":"UD","t":2022.53,"v":-59.1},{"series":"UD","t":2022.56,"v":-64.1},{"series":"UD","t":2022.59,"v":-65.5},{"series":"UD","t":2022.63,"v":-63.9},{"series":"UD","t":2022.66,"v":-63.7},{"series":"UD","t":2022.69,"v":-65.5},{"series":"UD","t":2022.72,"v":-65.5},{"series":"UD","t":2022.76,"v":-63.4},{"series":"UD","t":2022.79,"v":-62.6},{"series":"UD","t":2022.86,"v":-64.7},{"series":"UD","t":2022.92,"v":-70.8},{"series":"UD","t":2022.99,"v":-69.8},{"series":"UD","t":2023.02,"v":-70.1},{"series":"UD","t":2023.05,"v":-70.8},{"series":"UD","t":2023.08,"v":-71.9},{"series":"UD","t":2023.11,"v":-72.6},{"series":"UD","t":2023.14,"v":-73.5},{"series":"UD","t":2023.17,"v":-74.6},{"series":"UD","t":2023.20,"v":-75.6},{"series":"UD","t":2023.23,"v":-76.9},{"series":"UD","t":2023.26,"v":-78.6},{"series":"UD","t":2023.29,"v":-79.9},{"series":"UD","t":2023.32,"v":-81.2},{"series":"UD","t":2023.36,"v":-81.5},{"series":"UD","t":2023.38,"v":-81.2},
      {"series":"EW","t":2020.46,"v":0},{"series":"EW","t":2020.49,"v":0.8},{"series":"EW","t":2020.52,"v":-1.4},{"series":"EW","t":2020.56,"v":-4.9},{"series":"EW","t":2020.62,"v":-7.0},{"series":"EW","t":2020.68,"v":-4.3},{"series":"EW","t":2020.75,"v":-1.9},{"series":"EW","t":2020.82,"v":-0.6},{"series":"EW","t":2020.88,"v":-3.5},{"series":"EW","t":2020.95,"v":-3.7},{"series":"EW","t":2021.01,"v":-1.7},{"series":"EW","t":2021.08,"v":-2.7},{"series":"EW","t":2021.14,"v":-3.7},{"series":"EW","t":2021.21,"v":-2.1},{"series":"EW","t":2021.28,"v":-1.9},{"series":"EW","t":2021.34,"v":-2.4},{"series":"EW","t":2021.41,"v":2.6},{"series":"EW","t":2021.44,"v":5.8},{"series":"EW","t":2021.47,"v":4.5},{"series":"EW","t":2021.51,"v":0.2},{"series":"EW","t":2021.54,"v":-0.3},{"series":"EW","t":2021.58,"v":2.4},{"series":"EW","t":2021.61,"v":3.4},{"series":"EW","t":2021.64,"v":2.6},{"series":"EW","t":2021.67,"v":1.3},{"series":"EW","t":2021.70,"v":0.8},{"series":"EW","t":2021.73,"v":2.2},{"series":"EW","t":2021.76,"v":4.7},{"series":"EW","t":2021.79,"v":5.0},{"series":"EW","t":2021.83,"v":4.7},{"series":"EW","t":2021.86,"v":4.5},{"series":"EW","t":2021.89,"v":4.3},{"series":"EW","t":2021.92,"v":4.0},{"series":"EW","t":2021.95,"v":3.2},{"series":"EW","t":2021.98,"v":2.6},{"series":"EW","t":2022.00,"v":2.4},{"series":"EW","t":2022.07,"v":3.4},{"series":"EW","t":2022.13,"v":5.0},{"series":"EW","t":2022.20,"v":5.8},{"series":"EW","t":2022.23,"v":5.8},{"series":"EW","t":2022.26,"v":6.1},{"series":"EW","t":2022.29,"v":6.4},{"series":"EW","t":2022.32,"v":6.9},{"series":"EW","t":2022.35,"v":6.4},{"series":"EW","t":2022.38,"v":5.4},{"series":"EW","t":2022.41,"v":4.7},{"series":"EW","t":2022.44,"v":4.5},{"series":"EW","t":2022.47,"v":4.0},{"series":"EW","t":2022.50,"v":3.4},{"series":"EW","t":2022.53,"v":3.4},{"series":"EW","t":2022.56,"v":7.7},{"series":"EW","t":2022.59,"v":10.4},{"series":"EW","t":2022.63,"v":7.5},{"series":"EW","t":2022.66,"v":2.4},{"series":"EW","t":2022.69,"v":0.8},{"series":"EW","t":2022.72,"v":4.0},{"series":"EW","t":2022.76,"v":8.2},{"series":"EW","t":2022.79,"v":8.6},{"series":"EW","t":2022.86,"v":5.0},{"series":"EW","t":2022.92,"v":7.5},{"series":"EW","t":2022.99,"v":3.6},{"series":"EW","t":2023.02,"v":3.2},{"series":"EW","t":2023.05,"v":3.6},{"series":"EW","t":2023.08,"v":4.3},{"series":"EW","t":2023.11,"v":4.5},{"series":"EW","t":2023.14,"v":4.3},{"series":"EW","t":2023.17,"v":4.5},{"series":"EW","t":2023.20,"v":4.7},{"series":"EW","t":2023.23,"v":5.0},{"series":"EW","t":2023.26,"v":5.4},{"series":"EW","t":2023.29,"v":5.8},{"series":"EW","t":2023.32,"v":5.8},{"series":"EW","t":2023.36,"v":5.6},{"series":"EW","t":2023.38,"v":5.4}
    ],
    "h": [
      {"series":"UD","t":2020.49,"v":-9.0},{"series":"UD","t":2020.51,"v":-11.7},{"series":"UD","t":2020.55,"v":-10.5},{"series":"UD","t":2020.62,"v":-3.7},{"series":"UD","t":2020.68,"v":-9.3},{"series":"UD","t":2020.75,"v":-10.5},{"series":"UD","t":2020.81,"v":-7.8},{"series":"UD","t":2020.88,"v":-19.7},{"series":"UD","t":2020.95,"v":-17.6},{"series":"UD","t":2021.01,"v":-22.2},{"series":"UD","t":2021.08,"v":-17.9},{"series":"UD","t":2021.14,"v":-25.5},{"series":"UD","t":2021.21,"v":-29.8},{"series":"UD","t":2021.27,"v":-31.7},{"series":"UD","t":2021.34,"v":-37.6},{"series":"UD","t":2021.40,"v":-38.8},{"series":"UD","t":2021.44,"v":-40.0},{"series":"UD","t":2021.47,"v":-40.0},{"series":"UD","t":2021.50,"v":-36.6},{"series":"UD","t":2021.53,"v":-35.4},{"series":"UD","t":2021.57,"v":-39.0},{"series":"UD","t":2021.60,"v":-43.7},{"series":"UD","t":2021.64,"v":-46.8},{"series":"UD","t":2021.66,"v":-45.6},{"series":"UD","t":2021.70,"v":-43.1},{"series":"UD","t":2021.73,"v":-44.3},{"series":"UD","t":2021.76,"v":-48.4},{"series":"UD","t":2021.79,"v":-50.5},{"series":"UD","t":2021.83,"v":-52.1},{"series":"UD","t":2021.86,"v":-52.3},{"series":"UD","t":2021.90,"v":-54.2},{"series":"UD","t":2021.92,"v":-56.0},{"series":"UD","t":2021.97,"v":-59.1},{"series":"UD","t":2021.99,"v":-60.3},{"series":"UD","t":2022.06,"v":-64.0},{"series":"UD","t":2022.13,"v":-67.3},{"series":"UD","t":2022.19,"v":-70.2},{"series":"UD","t":2022.22,"v":-72.3},{"series":"UD","t":2022.25,"v":-73.9},{"series":"UD","t":2022.29,"v":-75.7},{"series":"UD","t":2022.32,"v":-76.9},{"series":"UD","t":2022.36,"v":-78.8},{"series":"UD","t":2022.39,"v":-79.4},{"series":"UD","t":2022.42,"v":-81.6},{"series":"UD","t":2022.45,"v":-84.3},{"series":"UD","t":2022.49,"v":-85.6},{"series":"UD","t":2022.52,"v":-85.3},{"series":"UD","t":2022.55,"v":-85.3},{"series":"UD","t":2022.58,"v":-85.6},{"series":"UD","t":2022.62,"v":-87.4},{"series":"UD","t":2022.65,"v":-89.2},{"series":"UD","t":2022.69,"v":-87.4},{"series":"UD","t":2022.72,"v":-85.8},{"series":"UD","t":2022.75,"v":-87.4},{"series":"UD","t":2022.78,"v":-89.2},{"series":"UD","t":2022.85,"v":-94.0},{"series":"UD","t":2022.92,"v":-96.6},{"series":"UD","t":2022.98,"v":-100.3},{"series":"UD","t":2023.01,"v":-100.3},{"series":"UD","t":2023.04,"v":-99.7},{"series":"UD","t":2023.07,"v":-100.6},{"series":"UD","t":2023.10,"v":-103.0},{"series":"UD","t":2023.14,"v":-105.5},{"series":"UD","t":2023.17,"v":-104.6},{"series":"UD","t":2023.21,"v":-102.2},{"series":"UD","t":2023.25,"v":-102.2},{"series":"UD","t":2023.28,"v":-102.8},{"series":"UD","t":2023.31,"v":-104.6},{"series":"UD","t":2023.34,"v":-110.8},{"series":"UD","t":2023.37,"v":-118.8},
      {"series":"EW","t":2020.45,"v":0},{"series":"EW","t":2020.49,"v":7.0},{"series":"EW","t":2020.51,"v":6.1},{"series":"EW","t":2020.55,"v":2.7},{"series":"EW","t":2020.62,"v":2.8},{"series":"EW","t":2020.68,"v":4.5},{"series":"EW","t":2020.75,"v":-2.5},{"series":"EW","t":2020.81,"v":-4.6},{"series":"EW","t":2020.88,"v":2.4},{"series":"EW","t":2020.95,"v":-2.9},{"series":"EW","t":2021.01,"v":4.9},{"series":"EW","t":2021.08,"v":-3.7},{"series":"EW","t":2021.14,"v":-4.4},{"series":"EW","t":2021.21,"v":-5.0},{"series":"EW","t":2021.27,"v":-6.2},{"series":"EW","t":2021.34,"v":-4.1},{"series":"EW","t":2021.40,"v":-5.6},{"series":"EW","t":2021.44,"v":-5.0},{"series":"EW","t":2021.47,"v":-5.0},{"series":"EW","t":2021.50,"v":-9.0},{"series":"EW","t":2021.53,"v":-11.7},{"series":"EW","t":2021.57,"v":-12.7},{"series":"EW","t":2021.60,"v":-15.2},{"series":"EW","t":2021.64,"v":-18.5},{"series":"EW","t":2021.66,"v":-17.9},{"series":"EW","t":2021.70,"v":-14.2},{"series":"EW","t":2021.73,"v":-13.6},{"series":"EW","t":2021.76,"v":-15.7},{"series":"EW","t":2021.79,"v":-18.2},{"series":"EW","t":2021.83,"v":-21.6},{"series":"EW","t":2021.86,"v":-23.1},{"series":"EW","t":2021.90,"v":-21.6},{"series":"EW","t":2021.93,"v":-20.4},{"series":"EW","t":2021.97,"v":-19.7},{"series":"EW","t":2021.99,"v":-20.1},{"series":"EW","t":2022.06,"v":-22.2},{"series":"EW","t":2022.13,"v":-19.7},{"series":"EW","t":2022.19,"v":-19.5},{"series":"EW","t":2022.22,"v":-18.1},{"series":"EW","t":2022.25,"v":-16.9},{"series":"EW","t":2022.29,"v":-15.7},{"series":"EW","t":2022.32,"v":-16.0},{"series":"EW","t":2022.36,"v":-17.6},{"series":"EW","t":2022.39,"v":-16.9},{"series":"EW","t":2022.42,"v":-15.4},{"series":"EW","t":2022.45,"v":-16.9},{"series":"EW","t":2022.49,"v":-22.2},{"series":"EW","t":2022.52,"v":-23.4},{"series":"EW","t":2022.56,"v":-19.7},{"series":"EW","t":2022.59,"v":-15.4},{"series":"EW","t":2022.62,"v":-11.7},{"series":"EW","t":2022.65,"v":-13.6},{"series":"EW","t":2022.69,"v":-20.6},{"series":"EW","t":2022.72,"v":-22.8},{"series":"EW","t":2022.75,"v":-18.5},{"series":"EW","t":2022.78,"v":-14.4},{"series":"EW","t":2022.85,"v":-11.1},{"series":"EW","t":2022.92,"v":-9.9},{"series":"EW","t":2022.98,"v":-6.8},{"series":"EW","t":2023.01,"v":-6.6},{"series":"EW","t":2023.04,"v":-5.6},{"series":"EW","t":2023.07,"v":-4.6},{"series":"EW","t":2023.10,"v":-3.7},{"series":"EW","t":2023.13,"v":-4.3},{"series":"EW","t":2023.16,"v":-5.3},{"series":"EW","t":2023.19,"v":-4.6},{"series":"EW","t":2023.22,"v":-4.1},{"series":"EW","t":2023.25,"v":-5.8},{"series":"EW","t":2023.29,"v":-9.3},{"series":"EW","t":2023.31,"v":-9.9},{"series":"EW","t":2023.35,"v":-5.6},{"series":"EW","t":2023.38,"v":2.4}
    ]
  },
  "columns": 2,
  "bounds": "flush",
  "spacing": {"row": 266, "column": 235},
  "concat": [
    {
      "width": 1231, "height": 740,
      "data": {"name": "a"},
      "title": {"text": "(a) P1"},
      "layer": [
        {"mark": {"type": "point", "filled": true, "size": 340, "opacity": 1},
         "encoding": {
           "x": {"field": "t", "type": "quantitative", "scale": {"domain": [2020, 2024], "nice": false, "zero": false},
                 "axis": {"title": "Date", "values": [2020, 2021, 2022, 2023, 2024], "labelExpr": "datum.value == 2024 ? '' : 'Jan' + (datum.value - 2000)"}},
           "y": {"field": "v", "type": "quantitative", "scale": {"domain": [-60, 60], "nice": false, "zero": false},
                 "axis": {"title": "Cumulative deformation/mm", "values": [-60, -40, -20, 0, 20, 40, 60]}},
           "color": {"field": "series", "type": "nominal", "scale": {"domain": ["UD", "EW"], "range": ["#ff0000", "#000000"]}, "legend": {"title": null}}
         }},
        {"mark": {"type": "point", "opacity": 0},
         "encoding": {
           "x": {"field": "t", "type": "quantitative", "axis": {"orient": "top", "labels": false, "title": null, "values": [2020, 2021, 2022, 2023, 2024]}},
           "y": {"field": "v", "type": "quantitative", "axis": {"orient": "right", "labels": false, "title": null, "values": [-60, -40, -20, 0, 20, 40, 60]}}
         }}
      ],
      "resolve": {"axis": {"x": "independent", "y": "independent"}}
    },
    {
      "width": 1276, "height": 738,
      "data": {"name": "b"},
      "title": {"text": "(b) P2"},
      "layer": [
        {"mark": {"type": "point", "filled": true, "size": 340, "opacity": 1},
         "encoding": {
           "x": {"field": "t", "type": "quantitative", "scale": {"domain": [2020, 2024], "nice": false, "zero": false},
                 "axis": {"title": "Date", "values": [2020, 2021, 2022, 2023, 2024], "labelExpr": "'Jan' + (datum.value - 2000)"}},
           "y": {"field": "v", "type": "quantitative", "scale": {"domain": [-100, 50], "nice": false, "zero": false},
                 "axis": {"title": "Cumulative deformation/mm", "values": [-100, -50, 0, 50]}},
           "color": {"field": "series", "type": "nominal", "scale": {"domain": ["UD", "EW"], "range": ["#ff0000", "#000000"]}, "legend": {"title": null}}
         }},
        {"mark": {"type": "point", "opacity": 0},
         "encoding": {
           "x": {"field": "t", "type": "quantitative", "axis": {"orient": "top", "labels": false, "title": null, "values": [2020, 2021, 2022, 2023, 2024]}},
           "y": {"field": "v", "type": "quantitative", "axis": {"orient": "right", "labels": false, "title": null, "values": [-100, -50, 0, 50]}}
         }}
      ],
      "resolve": {"axis": {"x": "independent", "y": "independent"}}
    },
    {
      "width": 1231, "height": 736,
      "data": {"name": "c"},
      "title": {"text": "(c) P3"},
      "layer": [
        {"mark": {"type": "point", "filled": true, "size": 340, "opacity": 1},
         "encoding": {
           "x": {"field": "t", "type": "quantitative", "scale": {"domain": [2020, 2024], "nice": false, "zero": false},
                 "axis": {"title": "Date", "values": [2020, 2021, 2022, 2023, 2024], "labelExpr": "'Jan' + (datum.value - 2000)"}},
           "y": {"field": "v", "type": "quantitative", "scale": {"domain": [-80, 40], "nice": false, "zero": false},
                 "axis": {"title": "Cumulative deformation/mm", "values": [-80, -60, -40, -20, 0, 20, 40]}},
           "color": {"field": "series", "type": "nominal", "scale": {"domain": ["UD", "EW"], "range": ["#ff0000", "#000000"]}, "legend": {"title": null}}
         }},
        {"mark": {"type": "point", "opacity": 0},
         "encoding": {
           "x": {"field": "t", "type": "quantitative", "axis": {"orient": "top", "labels": false, "title": null, "values": [2020, 2021, 2022, 2023, 2024]}},
           "y": {"field": "v", "type": "quantitative", "axis": {"orient": "right", "labels": false, "title": null, "values": [-80, -60, -40, -20, 0, 20, 40]}}
         }}
      ],
      "resolve": {"axis": {"x": "independent", "y": "independent"}}
    },
    {
      "width": 1276, "height": 735,
      "data": {"name": "d"},
      "title": {"text": "(d) P4"},
      "layer": [
        {"mark": {"type": "point", "filled": true, "size": 340, "opacity": 1},
         "encoding": {
           "x": {"field": "t", "type": "quantitative", "scale": {"domain": [2020, 2024], "nice": false, "zero": false},
                 "axis": {"title": "Date", "values": [2020, 2021, 2022, 2023, 2024], "labelExpr": "'Jan' + (datum.value - 2000)"}},
           "y": {"field": "v", "type": "quantitative", "scale": {"domain": [-100, 20], "nice": false, "zero": false},
                 "axis": {"title": "Cumulative deformation/mm", "values": [-100, -80, -60, -40, -20, 0, 20]}},
           "color": {"field": "series", "type": "nominal", "scale": {"domain": ["UD", "EW"], "range": ["#ff0000", "#000000"]}, "legend": {"title": null}}
         }},
        {"mark": {"type": "point", "opacity": 0},
         "encoding": {
           "x": {"field": "t", "type": "quantitative", "axis": {"orient": "top", "labels": false, "title": null, "values": [2020, 2021, 2022, 2023, 2024]}},
           "y": {"field": "v", "type": "quantitative", "axis": {"orient": "right", "labels": false, "title": null, "values": [-100, -80, -60, -40, -20, 0, 20]}}
         }}
      ],
      "resolve": {"axis": {"x": "independent", "y": "independent"}}
    },
    {
      "width": 1242, "height": 781,
      "data": {"name": "e"},
      "title": {"text": "(e) P5"},
      "layer": [
        {"mark": {"type": "point", "filled": true, "size": 340, "opacity": 1},
         "encoding": {
           "x": {"field": "t", "type": "quantitative", "scale": {"domain": [2020, 2024], "nice": false, "zero": false},
                 "axis": {"title": "Data", "labelFontSize": 36, "titleFontSize": 46, "values": [2020, 2021, 2022, 2023, 2024], "labelExpr": "'Jan' + (datum.value - 2000)"}},
           "y": {"field": "v", "type": "quantitative", "scale": {"domain": [-200, 100], "nice": false, "zero": false},
                 "axis": {"title": "Cumulative deformation/mm", "labelFontSize": 37, "titleFontSize": 48, "values": [-200, -150, -100, -50, 0, 50, 100]}},
           "color": {"field": "series", "type": "nominal", "scale": {"domain": ["UD", "EW"], "range": ["#ff0000", "#000000"]}, "legend": {"title": null, "labelFontSize": 36}}
         }},
        {"mark": {"type": "point", "opacity": 0},
         "encoding": {
           "x": {"field": "t", "type": "quantitative", "axis": {"orient": "top", "labels": false, "title": null, "values": [2020, 2021, 2022, 2023, 2024]}},
           "y": {"field": "v", "type": "quantitative", "axis": {"orient": "right", "labels": false, "title": null, "values": [-200, -150, -100, -50, 0, 50, 100]}}
         }}
      ],
      "resolve": {"axis": {"x": "independent", "y": "independent"}}
    },
    {
      "width": 1281, "height": 768,
      "data": {"name": "f"},
      "title": {"text": "(f) P6"},
      "layer": [
        {"mark": {"type": "point", "filled": true, "size": 340, "opacity": 1},
         "encoding": {
           "x": {"field": "t", "type": "quantitative", "scale": {"domain": [2020, 2024], "nice": false, "zero": false},
                 "axis": {"title": "Date", "values": [2020, 2021, 2022, 2023, 2024], "labelExpr": "'Jan' + (datum.value - 2000)"}},
           "y": {"field": "v", "type": "quantitative", "scale": {"domain": [-100, 40], "nice": false, "zero": false},
                 "axis": {"title": "Cumulative deformation/mm", "values": [-100, -80, -60, -40, -20, 0, 20, 40]}},
           "color": {"field": "series", "type": "nominal", "scale": {"domain": ["UD", "EW"], "range": ["#ff0000", "#000000"]}, "legend": {"title": null}}
         }},
        {"mark": {"type": "point", "opacity": 0},
         "encoding": {
           "x": {"field": "t", "type": "quantitative", "axis": {"orient": "top", "labels": false, "title": null, "values": [2020, 2021, 2022, 2023, 2024]}},
           "y": {"field": "v", "type": "quantitative", "axis": {"orient": "right", "labels": false, "title": null, "values": [-100, -80, -60, -40, -20, 0, 20, 40]}}
         }}
      ],
      "resolve": {"axis": {"x": "independent", "y": "independent"}}
    },
    {
      "width": 1241, "height": 751,
      "data": {"name": "g"},
      "title": {"text": "(g) P7"},
      "layer": [
        {"mark": {"type": "point", "filled": true, "size": 340, "opacity": 1},
         "encoding": {
           "x": {"field": "t", "type": "quantitative", "scale": {"domain": [2020, 2024], "nice": false, "zero": false},
                 "axis": {"title": "Date", "values": [2020, 2021, 2022, 2023, 2024], "labelExpr": "'Jan' + (datum.value - 2000)"}},
           "y": {"field": "v", "type": "quantitative", "scale": {"domain": [-100, 20], "nice": false, "zero": false},
                 "axis": {"title": "Cumulative deformation/mm", "values": [-100, -80, -60, -40, -20, 0, 20]}},
           "color": {"field": "series", "type": "nominal", "scale": {"domain": ["UD", "EW"], "range": ["#ff0000", "#000000"]}, "legend": {"title": null}}
         }},
        {"mark": {"type": "point", "opacity": 0},
         "encoding": {
           "x": {"field": "t", "type": "quantitative", "axis": {"orient": "top", "labels": false, "title": null, "values": [2020, 2021, 2022, 2023, 2024]}},
           "y": {"field": "v", "type": "quantitative", "axis": {"orient": "right", "labels": false, "title": null, "values": [-100, -80, -60, -40, -20, 0, 20]}}
         }}
      ],
      "resolve": {"axis": {"x": "independent", "y": "independent"}}
    },
    {
      "width": 1290, "height": 762,
      "data": {"name": "h"},
      "title": {"text": "(h) P8"},
      "layer": [
        {"mark": {"type": "point", "filled": true, "size": 340, "opacity": 1},
         "encoding": {
           "x": {"field": "t", "type": "quantitative", "scale": {"domain": [2020, 2024], "nice": false, "zero": false},
                 "axis": {"title": "Data", "values": [2020, 2021, 2022, 2023, 2024], "labelExpr": "'Jan' + (datum.value - 2000)"}},
           "y": {"field": "v", "type": "quantitative", "scale": {"domain": [-120, 20], "nice": false, "zero": false},
                 "axis": {"title": "Cumulative deformation/mm", "values": [-120, -100, -80, -60, -40, -20, 0, 20]}},
           "color": {"field": "series", "type": "nominal", "scale": {"domain": ["UD", "EW"], "range": ["#ff0000", "#000000"]}, "legend": {"title": null}}
         }},
        {"mark": {"type": "point", "opacity": 0},
         "encoding": {
           "x": {"field": "t", "type": "quantitative", "axis": {"orient": "top", "labels": false, "title": null, "values": [2020, 2021, 2022, 2023, 2024]}},
           "y": {"field": "v", "type": "quantitative", "axis": {"orient": "right", "labels": false, "title": null, "values": [-120, -100, -80, -60, -40, -20, 0, 20]}}
         }}
      ],
      "resolve": {"axis": {"x": "independent", "y": "independent"}}
    }
  ],
  "resolve": {"scale": {"color": "independent"}, "legend": {"color": "independent"}},
  "config": {
    "view": {"stroke": "#262626", "strokeWidth": 4.5},
    "axis": {
      "grid": false, "domain": false, "ticks": true, "tickSize": -13, "tickWidth": 4, "tickColor": "#262626",
      "labelFont": "Liberation Sans", "labelFontWeight": "bold", "labelFontSize": 41, "labelColor": "#262626",
      "labelFlush": false, "labelOverlap": false, "labelBound": false,
      "titleFont": "Liberation Sans", "titleFontWeight": "bold", "titleFontSize": 50, "titleColor": "#262626"
    },
    "axisX": {"labelPadding": 52, "titlePadding": 4},
    "axisY": {"labelPadding": 33, "titlePadding": 0},
    "title": {"orient": "bottom", "font": "Liberation Serif", "fontSize": 70, "fontWeight": "normal", "color": "black", "anchor": "middle", "frame": "group", "offset": 14},
    "legend": {
      "orient": "top-right", "offset": 18, "padding": 12, "strokeColor": "#262626", "strokeWidth": 4, "fillColor": "white",
      "symbolType": "circle", "symbolSize": 340, "symbolStrokeWidth": 0, "symbolOffset": 16,
      "labelFont": "Liberation Sans", "labelFontWeight": "bold", "labelFontSize": 40, "labelColor": "black",
      "labelOffset": 26, "rowPadding": 14
    }
  }
}
